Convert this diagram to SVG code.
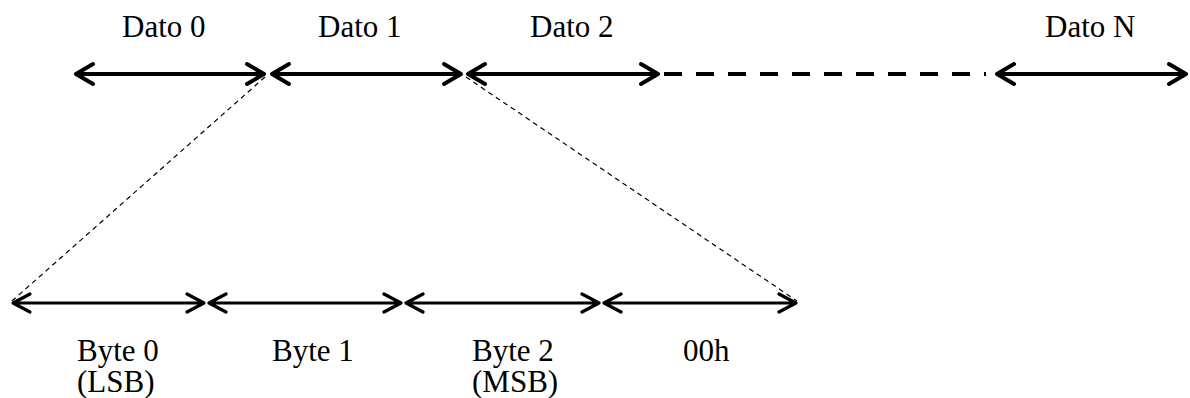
<svg xmlns="http://www.w3.org/2000/svg" width="1190" height="398" viewBox="0 0 1190 398">
<style>
text{font-family:"Liberation Serif","Times New Roman",serif;font-size:31px;fill:#000}
.top{stroke:#000;stroke-width:4;fill:none;stroke-linecap:round;stroke-linejoin:round}
.bot{stroke:#000;stroke-width:3.2;fill:none;stroke-linecap:round;stroke-linejoin:round}
.thin{stroke:#000;stroke-width:1.2;fill:none;stroke-dasharray:5 4}
</style>
<rect width="1190" height="398" fill="#fff"/>
<g id="labels-top">
<g id="dato0"><text x="122" y="37">Dato 0</text></g>
<g id="dato1"><text x="318" y="37">Dato 1</text></g>
<g id="dato2"><text x="530" y="37">Dato 2</text></g>
<g id="datoN"><text x="1045" y="37">Dato N</text></g>
</g>
<g id="labels-bottom">
<g id="byte0"><text x="77" y="361">Byte 0</text><text x="77" y="392">(LSB)</text></g>
<g id="byte1"><text x="272" y="361">Byte 1</text></g>
<g id="byte2"><text x="472" y="361">Byte 2</text><text x="472" y="392">(MSB)</text></g>
<g id="byte3"><text x="683" y="361">00h</text></g>
</g>
<g id="connectors">
<g class="top">
<path d="M76 74H264M93 64L76 74L93 84M247 64L264 74L247 84"/>
<path d="M272 74H461M289 64L272 74L289 84M444 64L461 74L444 84"/>
<path d="M468 74H658M485 64L468 74L485 84M641 64L658 74L641 84"/>
<path d="M997 74H1186M1014 64L997 74L1014 84M1169 64L1186 74L1169 84"/>
<path d="M664 74H986" stroke-dasharray="18 14" stroke-linecap="butt"/>
</g>
<g class="bot">
<path d="M13 303H204M30 294L13 303L30 312M187 294L204 303L187 312"/>
<path d="M209 303H401M226 294L209 303L226 312M384 294L401 303L384 312"/>
<path d="M406 303H599M423 294L406 303L423 312M582 294L599 303L582 312"/>
<path d="M604 303H796M621 294L604 303L621 312M779 294L796 303L779 312"/>
</g>
<path class="thin" d="M265 77L12 301"/>
<path class="thin" d="M466 77L797 301"/>
</g>
</svg>
